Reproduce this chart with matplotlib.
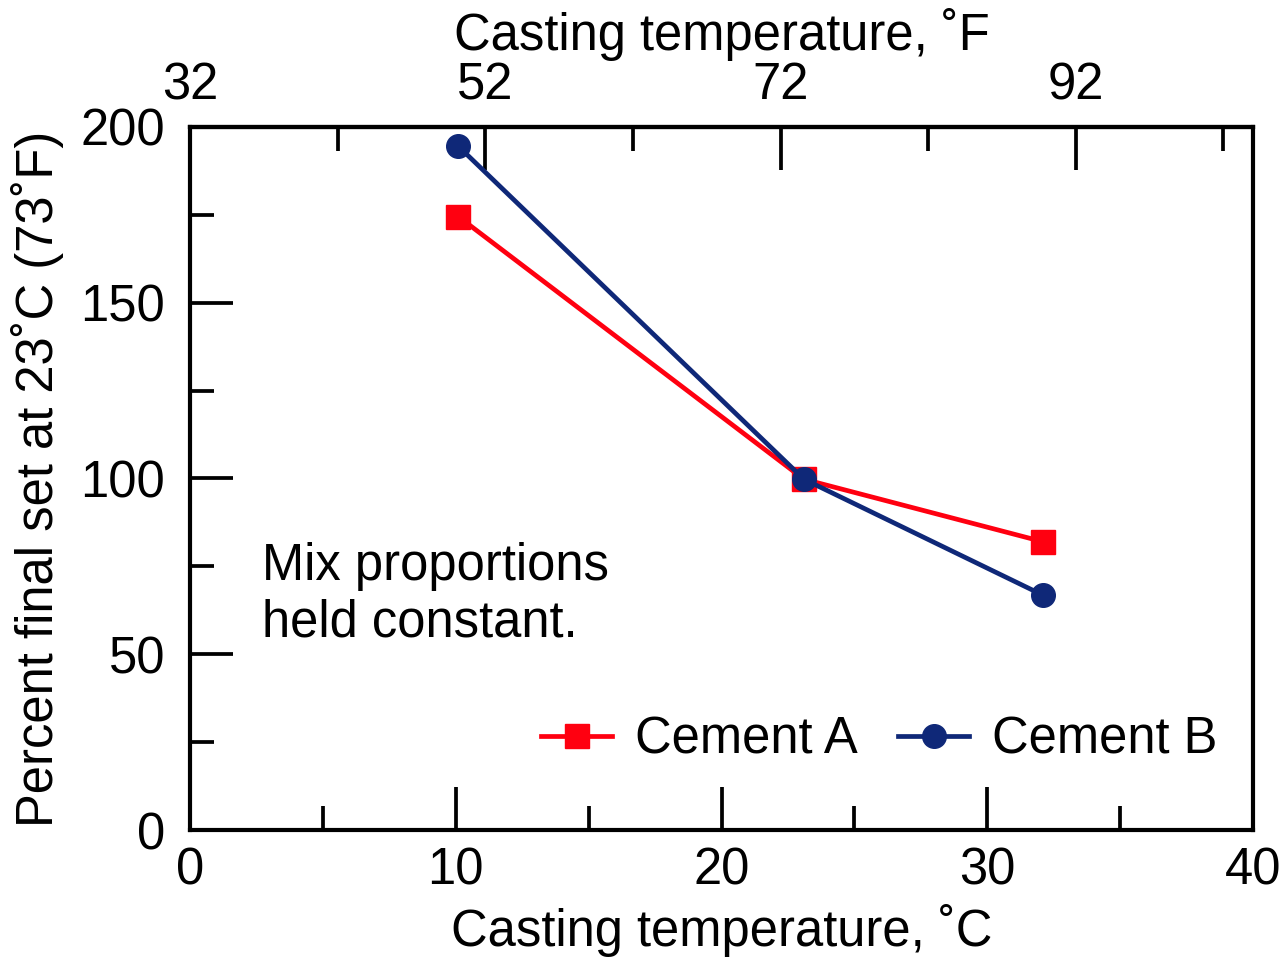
import matplotlib
matplotlib.use("Agg")
import matplotlib.pyplot as plt
from matplotlib.ticker import MultipleLocator, FixedLocator

plt.rcParams['font.family'] = ['Liberation Sans', 'DejaVu Sans']

# Data
temp_c = [10.1, 23.1, 32.1]
cement_a = [174.5, 99.8, 82.0]
cement_b = [194.5, 99.8, 66.8]
series_labels = ["Cement A", "Cement B"]
x_ticks_c = [0, 10, 20, 30, 40]
y_ticks = [0, 50, 100, 150, 200]
f_ticks = [32, 52, 72, 92]
f_minor = [42, 62, 82, 102]

red = "#ff0010"
navy = "#0f2878"

fig = plt.figure(figsize=(12.88, 9.63), dpi=100)
ax = fig.add_axes([190/1288, 1 - 830/963, (1253-190)/1288, (830-127)/963])

ax.plot(temp_c, cement_a, color=red, lw=3.4, marker='s', ms=17, label=series_labels[0], zorder=3)
ax.plot(temp_c, cement_b, color=navy, lw=3.4, marker='o', ms=17, label=series_labels[1], zorder=4)

ax.set_xlim(0, 40)
ax.set_ylim(0, 200)
ax.set_xticks(x_ticks_c)
ax.xaxis.set_minor_locator(MultipleLocator(5))
ax.set_yticks(y_ticks)
ax.yaxis.set_minor_locator(MultipleLocator(25))

fs = 36.5
ax.tick_params(axis='both', which='both', direction='in', width=2.7, labelsize=fs)
ax.tick_params(axis='x', which='major', length=31, pad=12, top=False)
ax.tick_params(axis='x', which='minor', length=17, top=False)
ax.tick_params(axis='y', which='major', length=31, pad=18, right=False)
ax.tick_params(axis='y', which='minor', length=17, right=False)
for s in ax.spines.values():
    s.set_linewidth(3)

ax.set_xlabel("Casting temperature, ˚C", fontsize=fs, labelpad=6)
ax.set_ylabel("Percent final set at 23˚C (73˚F)", fontsize=fs, labelpad=12)

def c2f(c):
    return c * 9 / 5 + 32

def f2c(f):
    return (f - 32) * 5 / 9

sec = ax.secondary_xaxis('top', functions=(c2f, f2c))
sec.xaxis.set_major_locator(FixedLocator(f_ticks))
sec.xaxis.set_minor_locator(FixedLocator(f_minor))
sec.tick_params(axis='x', which='both', direction='in', width=2.7, labelsize=fs)
sec.tick_params(axis='x', which='major', length=31, pad=12)
sec.tick_params(axis='x', which='minor', length=17)
sec.spines['top'].set_linewidth(3)
sec.set_xlabel("Casting temperature, ˚F", fontsize=fs, labelpad=8)

ax.text(2.7, 67, "Mix proportions\nheld constant.", fontsize=fs, ha='left', va='center',
        linespacing=1.2)

ax.legend(loc='center right', bbox_to_anchor=(1.0, 0.128), ncol=2, frameon=False,
          fontsize=fs, handlelength=1.4, handletextpad=0.45, columnspacing=0.8,
          borderaxespad=0.3)

fig.savefig("out.png", dpi=100)
